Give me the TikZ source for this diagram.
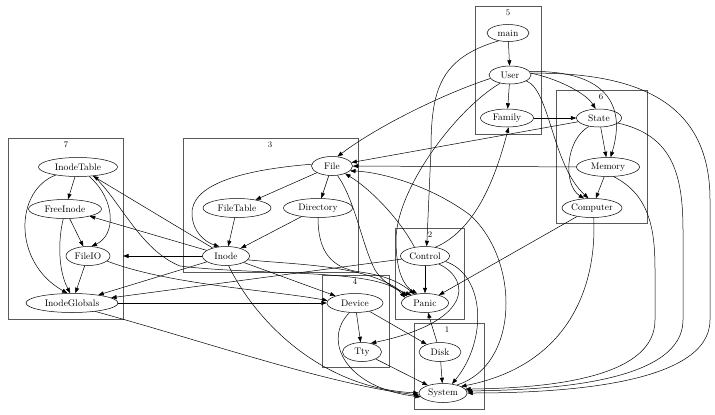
\documentclass[tikz,border=0pt]{standalone}
\usetikzlibrary{shapes.geometric,arrows.meta}
\begin{document}
\begin{tikzpicture}[x=1pt,y=-1pt,
  nd/.style={ellipse,draw,line width=0.5pt,inner sep=0pt,minimum height=19pt,font=\fontsize{9.5}{10}\selectfont},
  clu/.style={draw=black!65,line width=0.7pt},
  clab/.style={font=\fontsize{8.5}{9}\selectfont,inner sep=0pt},
  ed/.style={line width=0.5pt,-{Triangle[length=5.5pt,width=4pt]}},
  re/.style={line width=0.5pt,{Triangle[length=5.5pt,width=4pt]}-}]
\useasboundingbox (0,0) rectangle (715,415);
\fill[white] (0,0) rectangle (715,415);
% clusters
\draw[clu] (475,6) rectangle (541,134);  \node[clab] (l5) at (508,13) {5};
\draw[clu] (556,90) rectangle (647,223); \node[clab] (l6) at (601,97) {6};
\draw[clu] (8,138) rectangle (123,319);  \node[clab] (l7) at (66,145) {7};
\draw[clu] (183,138) rectangle (358,272); \node[clab] (l3) at (270,145) {3};
\draw[clu] (395,228) rectangle (464,319); \node[clab] (l2) at (430,235) {2};
\draw[clu] (322,275) rectangle (389,367); \node[clab] (l4) at (355,282) {4};
\draw[clu] (414,323) rectangle (484,409); \node[clab] (l1) at (447,330) {1};
% nodes
\node[nd,minimum width=42pt,minimum height=17pt] (main) at (508,33) {main};
\node[nd,minimum width=42pt,minimum height=18pt] (User) at (510,75) {User};
\node[nd,minimum width=53pt,minimum height=18pt] (Family) at (507,118) {Family};
\node[nd,minimum width=45pt,minimum height=18pt] (State) at (599,118) {State};
\node[nd,minimum width=63pt] (Memory) at (608,167) {Memory};
\node[nd,minimum width=60pt] (Computer) at (592,208) {Computer};
\node[nd,minimum width=79pt] (InodeTable) at (78,167) {InodeTable};
\node[nd,minimum width=73pt] (FreeInode) at (65,209) {FreeInode};
\node[nd,minimum width=44pt] (FileIO) at (88,256) {FileIO};
\node[nd,minimum width=92pt] (InodeGlobals) at (72,303) {InodeGlobals};
\node[nd,minimum width=41pt] (File) at (332,166) {File};
\node[nd,minimum width=68pt] (FileTable) at (237,208) {FileTable};
\node[nd,minimum width=69pt] (Directory) at (318,208) {Directory};
\node[nd,minimum width=47pt] (Inode) at (226,256) {Inode};
\node[nd,minimum width=49pt] (Control) at (425,256) {Control};
\node[nd,minimum width=47pt] (Panic) at (425,303) {Panic};
\node[nd,minimum width=56pt] (Device) at (355,303) {Device};
\node[nd,minimum width=39pt] (Tty) at (362,352) {Tty};
\node[nd,minimum width=42pt] (Disk) at (440,352) {Disk};
\node[nd,minimum width=48pt] (System) at (443,393) {System};
\coordinate (c7a) at (123,256);
% edges: cluster 5 / 6
\draw[ed] (main) -- (User);
\draw[ed] (main.220) .. controls (440,58) and (431,90) .. (431,150) -- (Control.80);
\draw[ed] (User) -- (Family);
\draw[ed] (User.190) .. controls (440,95) and (375,128) .. (File.60);
\draw[ed] (User.220) .. controls (455,110) and (396,190) .. (396,240) .. controls (396,272) and (404,286) .. (Panic.130);
\draw[ed] (User.5) .. controls (555,78) and (585,92) .. (State.110);
\draw[ed] (User.10) .. controls (600,70) and (628,100) .. (Memory.75);
\draw[ed] (User.-20) .. controls (550,90) and (552,165) .. (Computer.110);
\draw[ed] (User.5) .. controls (650,72) and (710,110) .. (710,200) -- (710,320) .. controls (710,385) and (560,393) .. (System.east);
\draw[ed] (Family) -- (State);
\draw[ed] (State) -- (File);
\draw[ed] (State) -- (Memory);
\draw[ed] (State.220) .. controls (565,140) and (563,185) .. (Computer.130);
\draw[ed] (State.-15) .. controls (670,135) and (683,170) .. (683,230) -- (683,320) .. controls (683,380) and (560,390) .. (System.5);
\draw[ed] (Memory) -- (File);
\draw[ed] (Memory) -- (Computer);
\draw[ed] (Memory.-60) .. controls (650,195) and (655,230) .. (655,270) -- (655,320) .. controls (655,375) and (560,388) .. (System.10);
\draw[ed] (Computer) -- (Panic);
\draw[ed] (Computer.-80) .. controls (597,285) and (570,365) .. (System.20);
% cluster 2
\draw[ed] (Control.40) .. controls (475,230) and (495,180) .. (Family.-80);
\draw[ed] (Control) -- (Panic);
\draw[ed] (Control.-30) .. controls (472,280) and (472,322) .. (Tty.45);
\draw[ed] (Control.-15) .. controls (485,275) and (488,340) .. (System.45);
\draw[ed] (Control.140) .. controls (400,220) and (372,190) .. (File.-30);
\draw[ed] (Control) -- (InodeGlobals);
% cluster 3
\draw[ed] (File) -- (FileTable);
\draw[ed] (File) -- (Directory);
\draw[ed] (File.175) .. controls (240,170) and (190,185) .. (192,215) .. controls (193,232) and (205,242) .. (Inode.125);
\draw[ed] (File.-60) .. controls (355,200) and (362,245) .. (375,270) .. controls (385,285) and (398,290) .. (Panic.150);
\draw[re] (File.-15) .. controls (380,172) and (430,185) .. (470,215) .. controls (520,260) and (520,365) .. (System.30);
\draw[ed] (FileTable) -- (Inode);
\draw[ed] (Directory) -- (Inode);
\draw[ed] (Directory.-90) .. controls (318,250) and (330,268) .. (360,272) .. controls (390,276) and (403,285) .. (Panic.140);
\draw[ed] (Inode) -- (InodeTable);
\draw[ed] (Inode) -- (FreeInode);
\draw[ed] (Inode) -- (c7a);
\draw[ed] (Inode) -- (InodeGlobals);
\draw[ed] (Inode) -- (Device);
\draw[ed] (Inode.-10) .. controls (300,265) and (370,265) .. (Panic.160);
\draw[ed] (Inode.-75) .. controls (255,320) and (320,388) .. (System.west);
% cluster 7
\draw[ed] (InodeTable) -- (FreeInode);
\draw[ed] (InodeTable.-40) .. controls (116,200) and (116,235) .. (FileIO.70);
\draw[ed] (InodeTable.200) .. controls (15,190) and (12,262) .. (InodeGlobals.115);
\draw[ed] (InodeTable.-30) .. controls (120,200) and (140,250) .. (180,266) .. controls (260,276) and (380,268) .. (Panic.165);
\draw[ed] (FreeInode) -- (FileIO);
\draw[ed] (FreeInode.-100) .. controls (58,240) and (58,270) .. (InodeGlobals.100);
\draw[ed] (FileIO) -- (InodeGlobals);
\draw[ed] (FileIO.-15) .. controls (170,285) and (270,290) .. (Device.175);
\draw[ed] (InodeGlobals) -- (Device);
\draw[ed] (InodeGlobals.-20) .. controls (200,340) and (330,385) .. (System.185);
% cluster 4 / 1
\draw[ed] (Device) -- (Tty);
\draw[ed] (Device) -- (Disk);
\draw[ed] (Device.-120) .. controls (322,340) and (345,388) .. (System.190);
\draw[ed] (Tty) -- (System);
\draw[ed] (Disk) -- (Panic);
\draw[ed] (Disk) -- (System);
\end{tikzpicture}
\end{document}
